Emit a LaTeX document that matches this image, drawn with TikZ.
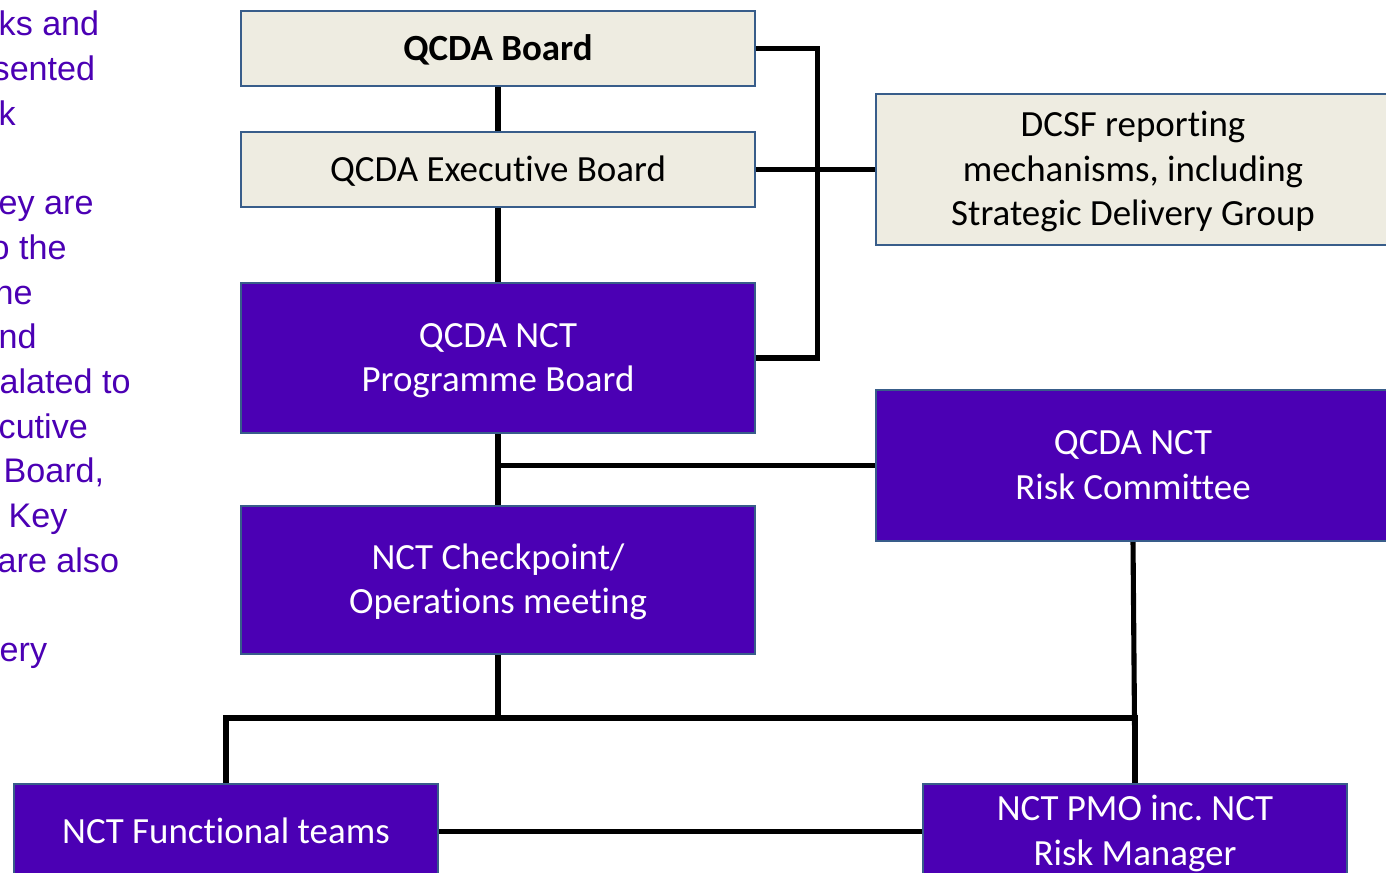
\documentclass[tikz,border=0pt]{standalone}
\usepackage{fontspec}
\setmainfont{Carlito}[Ligatures={NoCommon,NoContextual}]
\newfontfamily\notefont{Liberation Sans}
\usepackage{tikz}
\frenchspacing

\definecolor{nctpurple}{RGB}{75,0,180}
\definecolor{boxline}{RGB}{56,93,138}
\definecolor{paper}{RGB}{238,236,225}
\newcommand{\topstrut}{\rule{0pt}{10.4pt}}
\newcommand{\boxlines}[1]{\begin{tabular}{@{}c@{}}\topstrut#1\end{tabular}}

\begin{document}
\begin{tikzpicture}[x=0.01cm,y=-0.01cm,
    every node/.style={inner sep=0pt,font=\fontsize{10.5}{12.7}\selectfont},
    paperbox/.style={draw=boxline,line width=0.6pt,fill=paper,text=black},
    nctbox/.style={draw=boxline,line width=0.6pt,fill=nctpurple,text=white},
    link/.style={line width=1.45pt,black}]
\useasboundingbox (0,0) rectangle (1386,872);
\clip (0,0) rectangle (1386,872);

% notes on the left, cut by the slide edge
\foreach \x/\y/\t [count=\i] in {-2/35/ks and, -8/80/sented, -2/125/k,
    -2/214/ey are, -10/259/o the, -6/304/ne, -2/348/nd, -1/393/alated to,
    -2/438/cutive, 3/482/{Board,}, 8/527/Key, -3/572/are also, -1/661/ery}
  \node[anchor=base west,text=nctpurple,font=\notefont\fontsize{9.7}{12.7}\selectfont]
    (note\i) at (\x,\y) {\t};

% boards
\node[paperbox,minimum width=5.14cm,minimum height=0.75cm] (board) at (498,48.5)
    {\boxlines{\textbf{QCDA Board}}};
\node[paperbox,minimum width=5.14cm,minimum height=0.75cm] (exec) at (498,169.5)
    {\boxlines{QCDA Executive Board}};
\node[paperbox,minimum width=5.14cm,minimum height=1.51cm] (dcsf) at (1133,169.5)
    {\boxlines{DCSF reporting\\mechanisms, including\\Strategic Delivery Group}};
\node[nctbox,minimum width=5.14cm,minimum height=1.50cm] (prog) at (498,358)
    {\boxlines{QCDA NCT\\Programme Board}};
\node[nctbox,minimum width=5.14cm,minimum height=1.51cm] (risk) at (1133,465.5)
    {\boxlines{QCDA NCT\\Risk Committee}};
\node[nctbox,minimum width=5.14cm,minimum height=1.48cm] (check) at (498,580)
    {\boxlines{NCT Checkpoint/\\Operations meeting}};
\node[nctbox,minimum width=4.24cm,minimum height=0.95cm] (func) at (226,831.5)
    {\boxlines{NCT Functional teams}};
\node[nctbox,minimum width=4.24cm,minimum height=0.95cm] (pmo) at (1135,831.5)
    {\boxlines{NCT PMO inc. NCT\\Risk Manager}};

% reporting lines
\draw[link] (board.south) -- (exec.north);
\draw[link] (exec.south) -- (prog.north);
\draw[link] (board.east) -- ++(61,0) |- (prog.east);
\draw[link] (exec.east) -- (dcsf.west);
\draw[link] (prog.south) -- (check.north);
\draw[link] (prog.south |- risk.west) -- (risk.west);

% bus under the checkpoint meeting
\coordinate (bus) at (498,718);
\draw[link] (check.south) -- (bus);
\draw[link] (func.north) |- (bus) -| (pmo.north);
\draw[link] (risk.south) -- (pmo.north);
\draw[link] (func.east) -- (pmo.west);

\end{tikzpicture}
\end{document}
